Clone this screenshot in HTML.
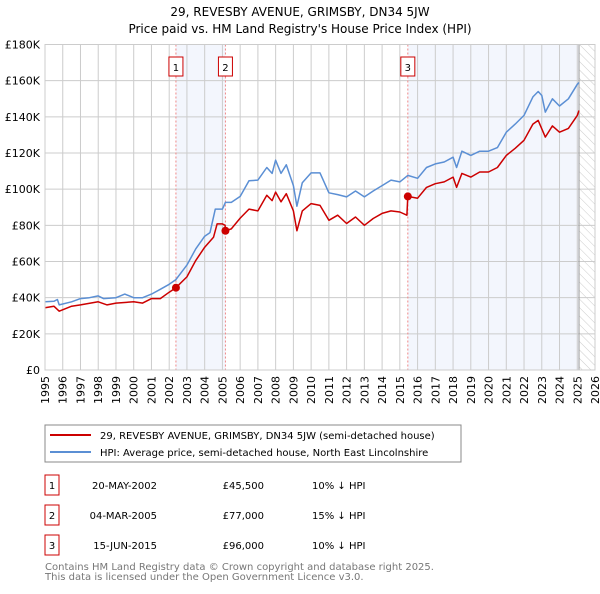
<!DOCTYPE html>
<html><head><meta charset="utf-8"><style>
body{margin:0;background:#fff;width:600px;height:590px;overflow:hidden;font-family:"DejaVu Sans","Liberation Sans",sans-serif;}
svg text{font-family:"DejaVu Sans","Liberation Sans",sans-serif;}
</style></head><body>
<svg id="c" width="600" height="590" xmlns="http://www.w3.org/2000/svg">
<defs><pattern id="hatch" width="6" height="6" patternUnits="userSpaceOnUse" patternTransform="rotate(-45)"><line x1="0" y1="0" x2="0" y2="6" stroke="#ccc" stroke-width="1"/></pattern></defs>
<text x="300" y="16" text-anchor="middle" font-size="12">29, REVESBY AVENUE, GRIMSBY, DN34 5JW</text>
<text x="300" y="33" text-anchor="middle" font-size="12">Price paid vs. HM Land Registry's House Price Index (HPI)</text>
<g id="plot"></g>
<rect x="45" y="425" width="416" height="37" fill="#fff" stroke="#888"/>
<line x1="50" y1="435" x2="91" y2="435" stroke="#cc0000" stroke-width="2"/>
<text x="100" y="439" font-size="10">29, REVESBY AVENUE, GRIMSBY, DN34 5JW (semi-detached house)</text>
<line x1="50" y1="452" x2="91" y2="452" stroke="#5b8fd4" stroke-width="2"/>
<text x="100" y="456" font-size="10">HPI: Average price, semi-detached house, North East Lincolnshire</text>
<g id="table" font-size="10"></g>
<text x="45" y="570" font-size="10" fill="#777">Contains HM Land Registry data © Crown copyright and database right 2025.</text>
<text x="45" y="580" font-size="10" fill="#777">This data is licensed under the Open Government Licence v3.0.</text>
</svg>
<script>
const hpiYears=[1995,1995.5,1995.7,1995.8,1996.5,1997,1997.5,1998,1998.3,1999,1999.5,2000,2000.5,2001,2001.5,2002,2002.38,2003,2003.5,2004,2004.3,2004.6,2005,2005.17,2005.5,2006,2006.5,2007,2007.5,2007.8,2008,2008.3,2008.6,2009,2009.2,2009.5,2010,2010.5,2011,2011.5,2012,2012.5,2013,2013.5,2014,2014.5,2015,2015.45,2016,2016.5,2017,2017.5,2018,2018.2,2018.5,2019,2019.5,2020,2020.5,2021,2021.5,2022,2022.5,2022.8,2023,2023.2,2023.6,2024,2024.5,2025,2025.1];
const hpiValues=[37.7,38,39,36,37.7,39.5,40,41,39.5,40,42,40,40,42,44.6,47.4,50,58,67,74,76,89,89,92.7,92.7,96,104.6,105,112,108.7,116,108.7,113.5,102,90.6,103.6,109,109,98,97,95.7,99,95.7,99,102,105,104,107.6,106,112,114,115,117.7,112,121,118.7,121,121,123,131.5,136,140.8,151,154,151.8,142.6,150,146,150,158,159];
const priceYears=[1995,1995.5,1995.8,1996.5,1997,1998,1998.5,1999,2000,2000.5,2001,2001.5,2002,2002.38,2003,2003.5,2004,2004.5,2004.7,2005,2005.15,2005.17,2005.5,2006,2006.5,2007,2007.5,2007.8,2008,2008.3,2008.6,2009,2009.2,2009.5,2010,2010.5,2011,2011.5,2012,2012.5,2013,2013.5,2014,2014.5,2015,2015.4,2015.45,2016,2016.5,2017,2017.5,2018,2018.2,2018.5,2019,2019.5,2020,2020.5,2021,2021.5,2022,2022.5,2022.8,2023.2,2023.6,2024,2024.5,2025,2025.1];
const priceValues=[34.4,35.3,32.5,35.3,36,37.7,36,37,37.7,37,39.5,39.5,43,45.5,51.5,60.6,67.9,73.4,80.8,80.8,80,77,78,84,89,88,96.6,93.7,98.4,93,97.5,88,77,88,92,91,82.8,85.6,81,84.6,80,83.8,86.6,88,87.4,85.6,96,95,101,103,104,106.7,101,108.7,106.7,109.5,109.5,112,118.7,122.6,127,136,138,128.8,135,131.5,133.6,140.8,143.5];
const saleYears=[2002.38,2005.17,2015.45];
const saleValues=[45.5,77,96];
const saleLabels=["1","2","3"];
const saleDates=["20-MAY-2002","04-MAR-2005","15-JUN-2015"];
const salePrices=["£45,500","£77,000","£96,000"];
const saleDiffs=["10% ↓ HPI","15% ↓ HPI","10% ↓ HPI"];
const yTicks=[0,20,40,60,80,100,120,140,160,180];
const yTickLabels=["£0","£20K","£40K","£60K","£80K","£100K","£120K","£140K","£160K","£180K"];
const xTicks=[1995,1996,1997,1998,1999,2000,2001,2002,2003,2004,2005,2006,2007,2008,2009,2010,2011,2012,2013,2014,2015,2016,2017,2018,2019,2020,2021,2022,2023,2024,2025,2026];
const X0=45,X1=595,Y0=370,Y1=44.5;
const xs=y=>X0+(y-1995)/(2026-1995)*(X1-X0);
const ys=v=>Y0-v/180*(Y0-Y1);
const NS="http://www.w3.org/2000/svg";
const plot=document.getElementById('plot');
function mk(tag,attrs,parent){const e=document.createElementNS(NS,tag);for(const k in attrs)e.setAttribute(k,attrs[k]);(parent||plot).appendChild(e);return e;}
let r=mk('rect',{x:xs(saleYears[0]),y:Y1,width:xs(saleYears[1])-xs(saleYears[0]),height:Y0-Y1,fill:'#f3f6fd'});


r=mk('rect',{x:xs(saleYears[2]),y:Y1,width:xs(2025.1)-xs(saleYears[2]),height:Y0-Y1,fill:'#f3f6fd'});


r=mk('rect',{x:xs(2025.1),y:Y1,width:X1-xs(2025.1),height:Y0-Y1,fill:'url(#hatch)'});


xTicks.forEach(t=>{let l=mk('line',{x1:xs(t),x2:xs(t),y1:Y1,y2:Y0,stroke:'#ccc','stroke-width':1});


let tx=mk('text',{x:0,y:0,'font-size':11,'text-anchor':'end',transform:`translate(${xs(t)+4},${Y0+6}) rotate(-90)`});tx.textContent=t;

});
yTicks.forEach((t,i)=>{let l=mk('line',{x1:X0,x2:X1,y1:ys(t),y2:ys(t),stroke:'#ccc','stroke-width':1});


let tx=mk('text',{x:40,y:ys(t)+4,'font-size':11,'text-anchor':'end'});tx.textContent=yTickLabels[i];

});
let el=mk('line',{x1:xs(2025.1),x2:xs(2025.1),y1:Y1,y2:Y0,stroke:'#999','stroke-width':1});


saleYears.forEach((s,i)=>{let l=mk('line',{x1:xs(s),x2:xs(s),y1:Y1,y2:Y0,stroke:'#e88','stroke-width':1,'stroke-dasharray':'2,2'});


let b=mk('rect',{x:xs(s)-7,y:57,width:14,height:19,fill:'#fff',stroke:'#c00'});


let t=mk('text',{x:xs(s),y:71,'font-size':10,'text-anchor':'middle'});t.textContent=saleLabels[i];

});
function line(xa,va,col,name){let p=mk('polyline',{points:xa.map((x,i)=>xs(x).toFixed(1)+','+ys(va[i]).toFixed(1)).join(' '),fill:'none',stroke:col,'stroke-width':1.5,'stroke-linejoin':'round'});

}
line(hpiYears,hpiValues,'#5b8fd4','hpi-line');
line(priceYears,priceValues,'#cc0000','price-line');
saleYears.forEach((s,i)=>{let c=mk('circle',{cx:xs(s),cy:ys(saleValues[i]),r:4,fill:'#cc0000'});

});
mk('rect',{x:X0,y:Y1,width:X1-X0,height:Y0-Y1,fill:'none',stroke:'#ccc'});
const tb=document.getElementById('table');
saleLabels.forEach((lab,i)=>{const cy=485+i*30;
let b=mk('rect',{x:45,y:cy-10,width:14,height:20,fill:'#fff',stroke:'#c00'},tb);


let t=mk('text',{x:52,y:cy+4,'text-anchor':'middle'},tb);t.textContent=lab;


t=mk('text',{x:157,y:cy+4,'text-anchor':'end'},tb);t.textContent=saleDates[i];


t=mk('text',{x:264,y:cy+4,'text-anchor':'end'},tb);t.textContent=salePrices[i];


t=mk('text',{x:312,y:cy+4},tb);t.textContent=saleDiffs[i];

});
</script>
</body></html>
